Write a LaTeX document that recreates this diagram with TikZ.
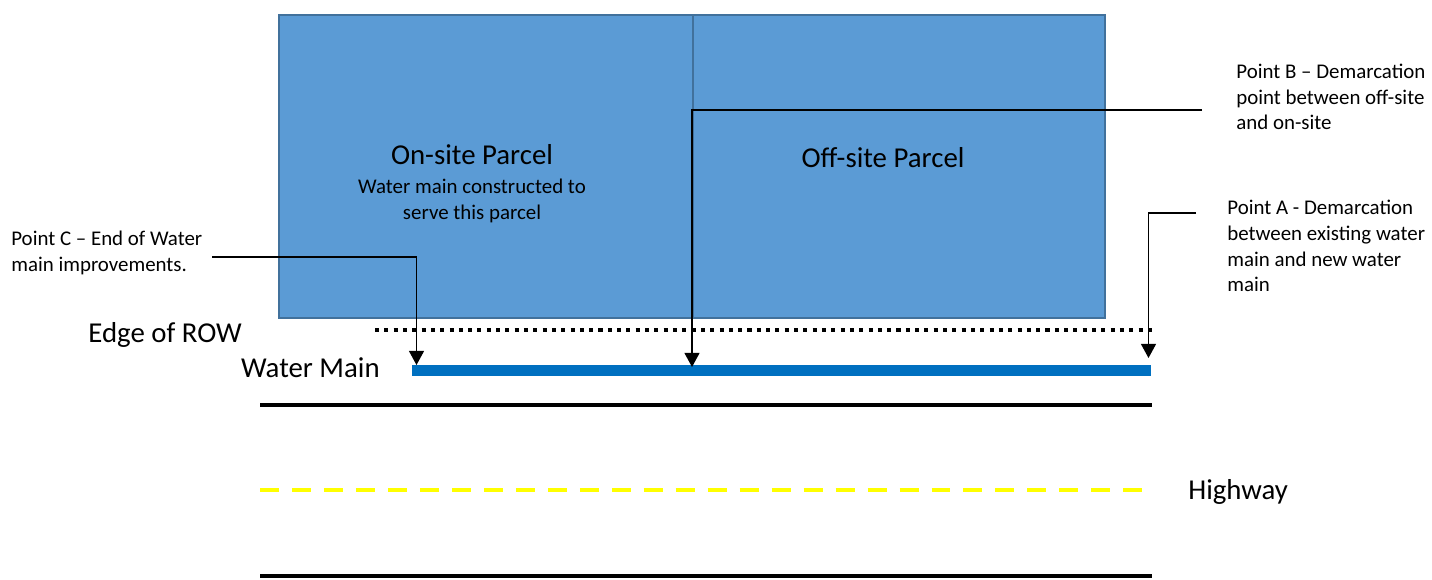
\documentclass[tikz,border=0pt]{standalone}
\usepackage{fontspec}
\setmainfont{Carlito}
\usepackage{tikz}
\usetikzlibrary{arrows.meta,positioning,calc}
\usepackage{xcolor}

\definecolor{parcelblue}{HTML}{5B9BD5}
\definecolor{parcelline}{HTML}{41719C}
\definecolor{mainblue}{HTML}{0070C0}
\definecolor{laneyellow}{HTML}{FFFF00}

\tikzset{
  parcel/.style={draw=parcelline, line width=1.2pt, fill=parcelblue},
  bigtext/.style={inner sep=0pt, font=\fontsize{16.4}{20}\selectfont},
  smalltext/.style={inner sep=0pt, align=left, font=\fontsize{11.9}{14.7}\selectfont},
  callout/.style={line width=0.75pt, -{Triangle[width=8.5pt,length=8pt]}},
  roadline/.style={line width=2.6pt, black}
}

\begin{document}
\begin{tikzpicture}[x=0.02cm, y=-0.02cm]
  \useasboundingbox (0,0) rectangle (1432,579);

  % parcels
  \draw[parcel] (279,15) rectangle (693,318);
  \draw[parcel] (693,15) rectangle (1105,318);
  \node[bigtext, anchor=base] (onsite) at (472,164) {On-site Parcel};
  \node[smalltext, align=center, anchor=base] (onsub) at (472,193) {Water main constructed to};
  \node[smalltext, align=center, anchor=base] (onsub2) at (472,219) {serve this parcel};
  \node[bigtext, anchor=base] (offsite) at (883,167) {Off-site Parcel};

  % right of way and water main
  \draw[line width=2.3pt, dash pattern=on 2.3pt off 3pt] (375,330) coordinate (rowL) -- (1155,330) coordinate (rowR);
  \node[bigtext, anchor=base east] (row) at (242,342) {Edge of ROW};
  \draw[mainblue, line width=6.8pt] (412,370.5) coordinate (wmL) -- (1151,370.5) coordinate (wmR);
  \node[bigtext, anchor=base east] (wm) at (380,377) {Water Main};

  % highway
  \draw[roadline] (260,405) -- (1152,405);
  \draw[laneyellow, line width=2.8pt, dash pattern=on 10.8pt off 7.4pt] (260,490) -- (1152,490);
  \draw[roadline] (260,576) -- (1152,576);
  \node[bigtext, anchor=base west] (hwy) at (1188,499) {Highway};

  % callouts
  \node[smalltext, anchor=west] (ptC) at (11,253) {Point C -- End of Water\\main improvements.};
  \node[smalltext, anchor=west] (ptB) at (1236,97) {Point B -- Demarcation\\point between off-site\\and on-site};
  \node[smalltext, anchor=west] (ptA) at (1227,246) {Point A - Demarcation\\between existing water\\main and new water\\main};
  \coordinate (cFrom) at (212,257);
  \coordinate (cTo) at (416.5,365);
  \coordinate (bFrom) at (1202,110);
  \coordinate (bTo) at (692,367);
  \coordinate (aFrom) at (1196,213);
  \coordinate (aTo) at (1148.5,358);
  \draw[callout] (cFrom) -| (cTo);
  \draw[callout] (bFrom) -| (bTo);
  \draw[callout] (aFrom) -| (aTo);
\end{tikzpicture}
\end{document}
